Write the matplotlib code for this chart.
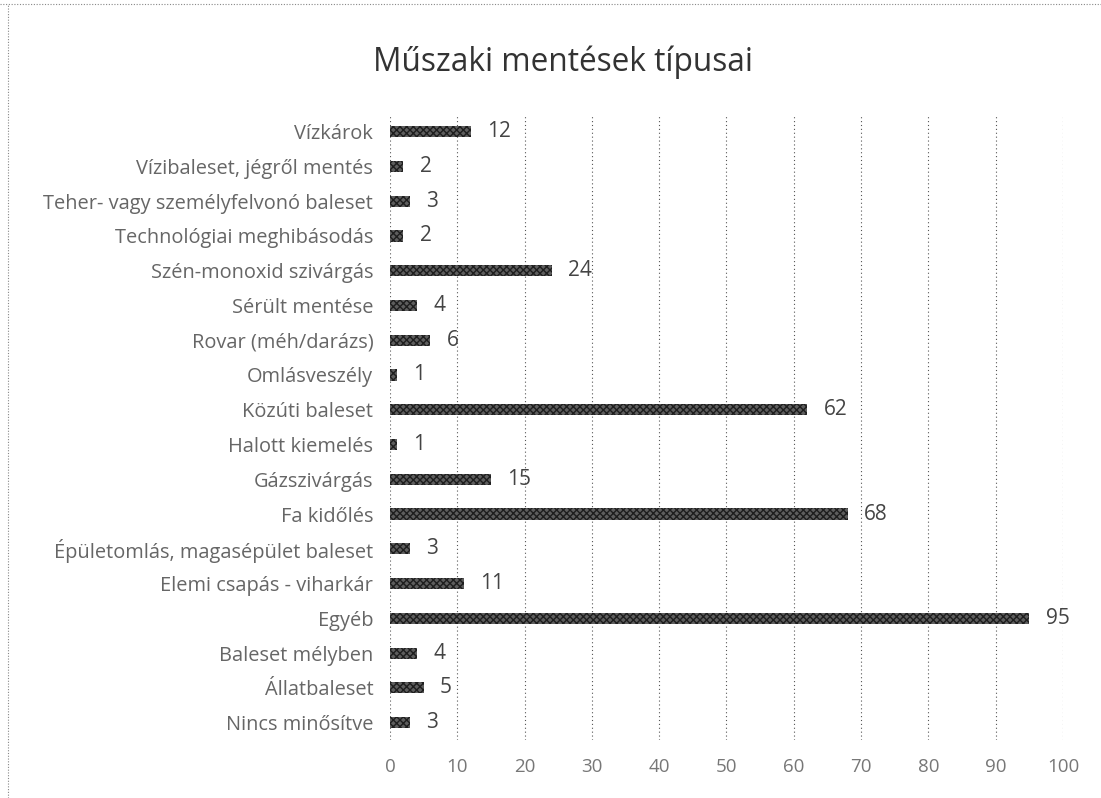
import numpy as np
import matplotlib.pyplot as plt
from matplotlib.lines import Line2D

plt.rcParams['font.family'] = ['Open Sans', 'DejaVu Sans']

categories = [
    "Vízkárok",
    "Vízibaleset, jégről mentés",
    "Teher- vagy személyfelvonó baleset",
    "Technológiai meghibásodás",
    "Szén-monoxid szivárgás",
    "Sérült mentése",
    "Rovar (méh/darázs)",
    "Omlásveszély",
    "Közúti baleset",
    "Halott kiemelés",
    "Gázszivárgás",
    "Fa kidőlés",
    "Épületomlás, magasépület baleset",
    "Elemi csapás - viharkár",
    "Egyéb",
    "Baleset mélyben",
    "Állatbaleset",
    "Nincs minősítve",
]
values = [12, 2, 3, 2, 24, 4, 6, 1, 62, 1, 15, 68, 3, 11, 95, 4, 5, 3]
x_ticks = [0, 10, 20, 30, 40, 50, 60, 70, 80, 90, 100]

fig = plt.figure(figsize=(11.01, 7.98), dpi=100)
ax = fig.add_axes([0.3542, 0.0727, 0.6113, 0.7841])

pos = np.arange(len(categories))
ax.barh(pos, values, height=0.32, color='#5e5e5e', edgecolor='#1e1e1e',
        hatch='xxxxx', linewidth=0)
ax.set_ylim(len(categories) - 0.5, -0.5)
ax.set_xlim(0, 100)
ax.set_xticks(x_ticks)
ax.set_yticks(pos)
ax.set_yticklabels(categories, fontsize=14.4, color='#666666')
ax.tick_params(axis='x', length=0, pad=13, labelsize=13.5, labelcolor='#777777')
ax.tick_params(axis='y', length=0, pad=12)

ax.grid(axis='x', linestyle=(0, (1, 2.5)), color='#555555', linewidth=0.8)
ax.set_axisbelow(True)
for s in ax.spines.values():
    s.set_visible(False)

for p, v in zip(pos, values):
    ax.text(v + 2.4, p, str(v), va='center', ha='left', fontsize=15, color='#444444')

fig.text(0.511, 0.922, "Műszaki mentések típusai", ha='center', va='center',
         fontsize=22.8, color='#333333')

# dotted chart border (top and left)
fig.add_artist(Line2D([0.0, 1.0], [0.995, 0.995], transform=fig.transFigure,
                      linestyle=(0, (1, 1.5)), color='#888888', linewidth=0.8))
fig.add_artist(Line2D([0.007, 0.007], [0.0, 0.995], transform=fig.transFigure,
                      linestyle=(0, (1, 1.5)), color='#888888', linewidth=0.8))

plt.savefig("out.png", dpi=100)
